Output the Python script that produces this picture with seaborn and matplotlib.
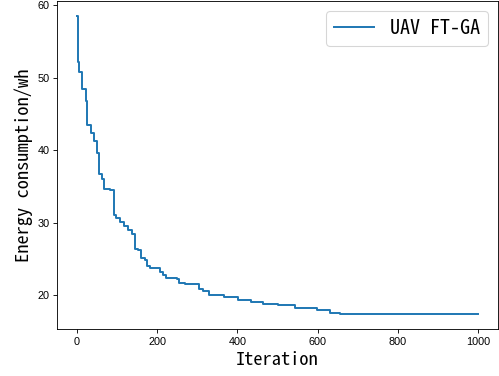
import matplotlib
matplotlib.use("Agg")
import matplotlib.pyplot as plt
import seaborn as sns
import pandas as pd

# Breakpoints of the best-so-far energy curve (iteration where the value changes)
iterations = [0, 2, 6, 12, 22, 26, 36, 43, 49, 56, 62, 66, 81, 91, 96, 106, 116,
              128, 138, 145, 152, 160, 170, 174, 182, 207, 215, 222, 249, 255,
              270, 303, 315, 328, 367, 401, 434, 464, 500, 543, 599, 632, 657,
              681, 1000]
energy = [58.5, 52.1, 50.7, 48.4, 46.8, 43.5, 42.3, 41.3, 39.6, 36.7, 36.0, 34.7,
          34.5, 31.1, 30.7, 30.1, 29.5, 29.0, 28.5, 26.4, 26.2, 25.2, 24.9, 24.0,
          23.7, 23.2, 22.8, 22.4, 22.2, 21.7, 21.6, 20.8, 20.6, 20.1, 19.8, 19.4,
          19.1, 18.85, 18.6, 18.2, 17.9, 17.6, 17.45, 17.4, 17.4]
series_name = "UAV FT-GA"
x_ticks = [0, 200, 400, 600, 800, 1000]
y_ticks = [20, 30, 40, 50, 60]

df = pd.DataFrame({"Iteration": iterations, "Energy": energy})

dpi = 78
fig = plt.figure(figsize=(499 / dpi, 376 / dpi), dpi=dpi)
ax = fig.add_axes([57 / 499, 47 / 376, 441 / 499, 328 / 376])

sns.lineplot(data=df, x="Iteration", y="Energy", ax=ax, color="#1f77b4",
             linewidth=1.8, drawstyle="steps-post", label=series_name)

label_font = ["Noto Sans Mono CJK SC", "DejaVu Sans Mono"]
ax.set_xlabel("Iteration", fontsize=17, family=label_font)
ax.set_ylabel("Energy consumption/wh", fontsize=17, family=label_font)
ax.set_xticks(x_ticks)
ax.set_yticks(y_ticks)
for lab in ax.get_xticklabels() + ax.get_yticklabels():
    lab.set_family(["Liberation Sans", "DejaVu Sans"])
    lab.set_fontsize(10)
ax.tick_params(labelsize=10)

ax.legend(loc="upper right", prop={"family": label_font, "size": 18.5})

fig.savefig("out.png", dpi=dpi)
